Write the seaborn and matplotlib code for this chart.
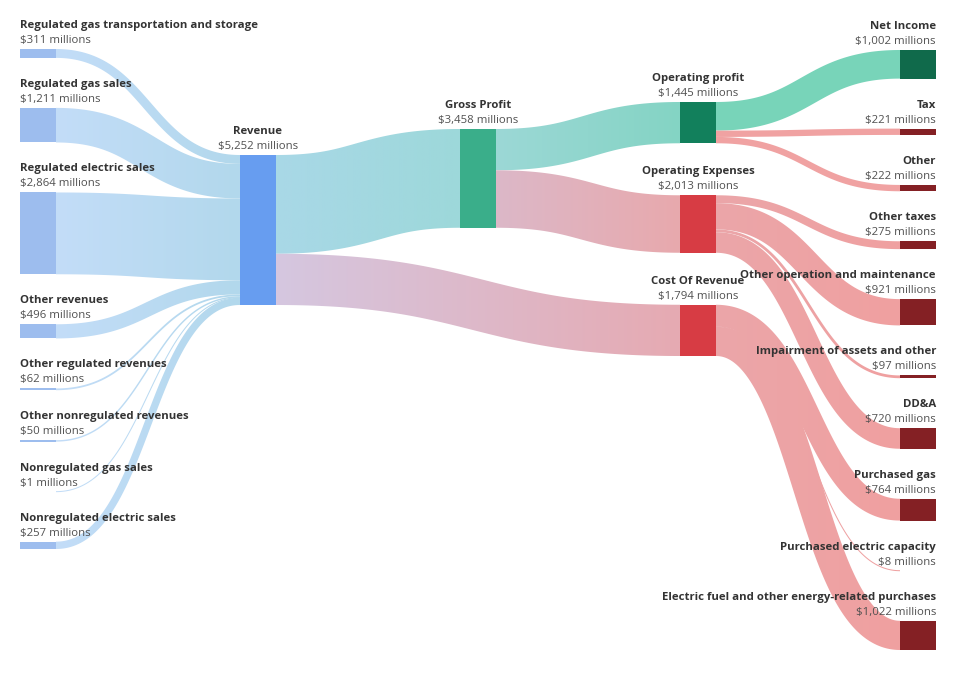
import numpy as np
import matplotlib
matplotlib.use("Agg")
import matplotlib.pyplot as plt
from matplotlib.patches import Polygon, Rectangle
import seaborn as sns

# values in millions of $
revenue_sources = [
    "Regulated gas transportation and storage",
    "Regulated gas sales",
    "Regulated electric sales",
    "Other revenues",
    "Other regulated revenues",
    "Other nonregulated revenues",
    "Nonregulated gas sales",
    "Nonregulated electric sales",
]
revenue_values = [311, 1211, 2864, 496, 62, 50, 1, 257]

revenue_total = 5252
gross_profit = 3458
cost_of_revenue = 1794
operating_profit = 1445
operating_expenses = 2013

profit_items = ["Net Income", "Tax", "Other"]
profit_values = [1002, 221, 222]
opex_items = ["Other taxes", "Other operation and maintenance",
              "Impairment of assets and other", "DD&A"]
opex_values = [275, 921, 97, 720]
cor_items = ["Purchased gas", "Purchased electric capacity",
             "Electric fuel and other energy-related purchases"]
cor_values = [764, 8, 1022]

# ---- build nodes / links ----
nodes = {}


def add_node(name, col, kind):
    nodes[name] = dict(name=name, col=col, kind=kind, inc=[], out=[])


for s in revenue_sources:
    add_node(s, 0, "source")
add_node("Revenue", 1, "revenue")
add_node("Gross Profit", 2, "gross")
add_node("Operating profit", 3, "profit")
add_node("Operating Expenses", 3, "expense")
add_node("Cost Of Revenue", 3, "expense")
add_node(profit_items[0], 4, "net")
for s in profit_items[1:] + opex_items + cor_items:
    add_node(s, 4, "cost")

links = [(s, "Revenue", v) for s, v in zip(revenue_sources, revenue_values)]
links += [("Revenue", "Gross Profit", gross_profit),
          ("Revenue", "Cost Of Revenue", cost_of_revenue),
          ("Gross Profit", "Operating profit", operating_profit),
          ("Gross Profit", "Operating Expenses", operating_expenses)]
links += [("Operating profit", s, v) for s, v in zip(profit_items, profit_values)]
links += [("Operating Expenses", s, v) for s, v in zip(opex_items, opex_values)]
links += [("Cost Of Revenue", s, v) for s, v in zip(cor_items, cor_values)]
links = [dict(src=a, tgt=b, value=v) for a, b, v in links]
for lk in links:
    nodes[lk["src"]]["out"].append(lk)
    nodes[lk["tgt"]]["inc"].append(lk)
for n in nodes.values():
    n["value"] = max(sum(l["value"] for l in n["inc"]), sum(l["value"] for l in n["out"]))

# ---- layout (pixels) ----
W, H = 956, 676
node_w = 36
margin_x = 20
col_x = [margin_x + i * (W - 2 * margin_x - node_w) / 4 for i in range(5)]
px_per_m = 150 / revenue_total
col_top = [49, 155, 129, 102, 50]
col_gap = [50, 50, 50, 52, 50]

for c in range(5):
    y = col_top[c]
    for n in [n for n in nodes.values() if n["col"] == c]:
        h = n["value"] * px_per_m
        n["x0"], n["x1"] = col_x[c], col_x[c] + node_w
        n["y0"], n["y1"] = y, y + h
        y += h + col_gap[c]

for n in nodes.values():
    off = n["y0"]
    for lk in sorted(n["out"], key=lambda l: nodes[l["tgt"]]["y0"]):
        w = lk["value"] * px_per_m
        lk["sy"] = off + w / 2
        off += w
    off = n["y0"]
    for lk in sorted(n["inc"], key=lambda l: nodes[l["src"]]["y0"]):
        w = lk["value"] * px_per_m
        lk["ty"] = off + w / 2
        off += w

node_colors = {
    "source": "#9dbdee", "revenue": "#679df0", "gross": "#3aae8a",
    "profit": "#12805c", "net": "#106a4b", "expense": "#d73c44", "cost": "#842024",
}
link_colors = {
    ("source", "revenue"): ("#c3ddf8", "#b2d8ec"),
    ("revenue", "gross"): ("#a9d8e7", "#9dd8da"),
    ("revenue", "expense"): ("#d5c7e0", "#e6aab2"),
    ("gross", "profit"): ("#9cd8d6", "#84d4c4"),
    ("gross", "expense"): ("#dcb8c8", "#e8a9ad"),
    ("profit", "net"): ("#78d4b9", "#78d4b9"),
    ("profit", "cost"): ("#f0a2a2", "#f0a2a2"),
    ("expense", "cost"): ("#eba6a9", "#f0a0a0"),
}

sns.set_theme(style="white")
plt.rcParams["font.family"] = ["Open Sans", "DejaVu Sans"]

fig = plt.figure(figsize=(W / 100, H / 100), dpi=100)
ax = fig.add_axes([0, 0, 1, 1])
ax.set_xlim(0, W)
ax.set_ylim(H, 0)
ax.axis("off")

t = np.linspace(0, 1, 200)[:, None]
grad = np.linspace(0, 1, 256)[None, :]
for lk in links:
    s, g = nodes[lk["src"]], nodes[lk["tgt"]]
    x0, x1 = s["x1"], g["x0"]
    xm = (x0 + x1) / 2
    p0, p1 = np.array([x0, lk["sy"]]), np.array([xm, lk["sy"]])
    p2, p3 = np.array([xm, lk["ty"]]), np.array([x1, lk["ty"]])
    pts = (1 - t) ** 3 * p0 + 3 * (1 - t) ** 2 * t * p1 + 3 * (1 - t) * t ** 2 * p2 + t ** 3 * p3
    d = 3 * (1 - t) ** 2 * (p1 - p0) + 6 * (1 - t) * t * (p2 - p1) + 3 * t ** 2 * (p3 - p2)
    d /= np.linalg.norm(d, axis=1, keepdims=True)
    nrm = np.column_stack([-d[:, 1], d[:, 0]])
    half = max(lk["value"] * px_per_m, 1.0) / 2
    outline = np.vstack([pts - nrm * half, (pts + nrm * half)[::-1]])
    c0, c1 = link_colors[(s["kind"], g["kind"])]
    if c0 == c1:
        ax.add_patch(Polygon(outline, closed=True, facecolor=c0, edgecolor="none", zorder=1))
        continue
    poly = Polygon(outline, closed=True, facecolor="none", edgecolor="none")
    ax.add_patch(poly)
    cmap = sns.blend_palette([c0, c1], n_colors=256, as_cmap=True)
    img = ax.imshow(grad, cmap=cmap, aspect="auto", interpolation="bilinear",
                    extent=(x0, x1, outline[:, 1].max() + 1, outline[:, 1].min() - 1), zorder=1)
    img.set_clip_path(poly)

for n in nodes.values():
    ax.add_patch(Rectangle((n["x0"], n["y0"]), node_w, n["y1"] - n["y0"],
                           facecolor=node_colors[n["kind"]], edgecolor="none", zorder=2))
    if n["col"] == 0:
        tx, ha = n["x0"], "left"
    elif n["col"] == 4:
        tx, ha = n["x1"], "right"
    else:
        tx, ha = (n["x0"] + n["x1"]) / 2, "center"
    ax.text(tx, n["y0"] - 23.5, n["name"], ha=ha, va="center", fontsize=8.2,
            fontweight="bold", color="#333333", zorder=3)
    ax.text(tx, n["y0"] - 8.5, f"${n['value']:,} millions", ha=ha, va="center",
            fontsize=8.2, color="#505050", zorder=3)

fig.savefig("out.png", dpi=100, facecolor="white")
